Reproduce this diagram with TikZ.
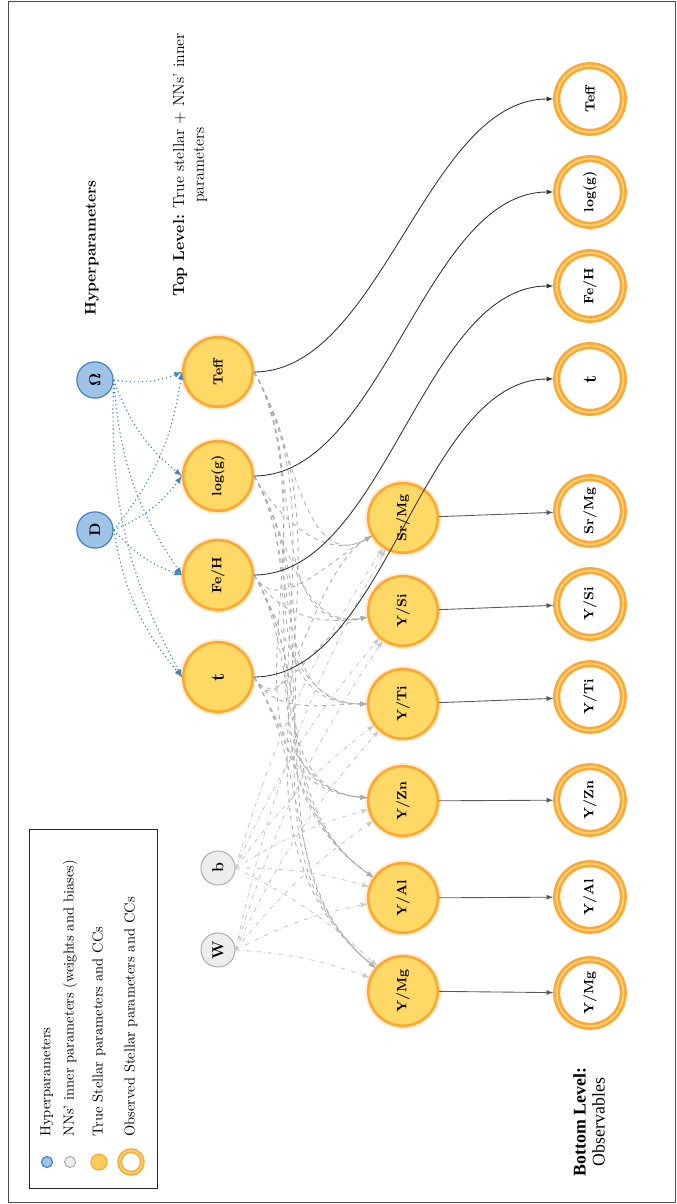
\documentclass[tikz,border=0pt]{standalone}
\usepackage[no-math]{fontspec}
\newfontfamily\levelfont{Liberation Serif}
\usetikzlibrary{arrows}

\definecolor{hyperfill}{HTML}{9DC3E6}
\definecolor{hyperdraw}{HTML}{3C7FC4}
\definecolor{nnfill}{HTML}{EDEDED}
\definecolor{nndraw}{HTML}{A3A3A3}
\definecolor{truefill}{HTML}{FFD966}
\definecolor{truedraw}{HTML}{FFA733}
\definecolor{obsinner}{HTML}{FFD27A}
\definecolor{dotblue}{HTML}{3D85C6}

\begin{document}
\begin{tikzpicture}[x=0.69pt, y=0.69pt, rotate=90, transform shape]
\tikzstyle{hyper}=[circle, draw=hyperdraw, fill=hyperfill, line width=0.8pt, minimum size=25pt, inner sep=0pt, font=\bfseries\fontsize{10.5}{12}\selectfont]
\tikzstyle{nnpar}=[circle, draw=nndraw, fill=nnfill, line width=0.6pt, minimum size=23.5pt, inner sep=0pt, font=\bfseries\fontsize{11}{13}\selectfont]
\tikzstyle{truebase}=[circle, draw=truedraw, fill=truefill, line width=1.8pt, minimum size=48pt, inner sep=0pt, font=\bfseries\fontsize{9.3}{11}\selectfont]
\tikzstyle{truevar}=[truebase, preaction={draw=truedraw!22, line width=4.5pt}]
\tikzstyle{obsvar}=[circle, draw=truedraw, double=obsinner, double distance=1.3pt, line width=1.8pt, fill=white, minimum size=46pt, inner sep=0pt, outer sep=2.4pt, font=\bfseries\fontsize{9.3}{11}\selectfont]
\tikzstyle{hyperline}=[dotted, color=dotblue, line width=0.8pt, -latex, bend right=15]
\tikzstyle{trueline}=[dashed, color=black!32, line width=0.6pt, -latex, out=-150]
\tikzstyle{nnline}=[dash dot, color=black!22, line width=0.6pt, -latex, bend left=8]
\tikzstyle{obsline}=[color=black!65, line width=0.6pt, -latex]
\tikzstyle{topline}=[color=black!80, line width=0.6pt, -latex, out=-90, in=90, looseness=0.8]
\tikzstyle{legtext}=[anchor=west, inner sep=0pt, font=\fontsize{10}{12}\selectfont]

\useasboundingbox (0,0) rectangle (1204,676);
\draw[black!70, line width=0.5pt] (2,1) rectangle (1203,668);

% hyperparameters and NN parameters
\node[hyper] (Omega) at (824,581) {$\mathbf{\Omega}$};
\node[hyper] (D) at (674,581) {D};
\node[nnpar] (W) at (254,458) {W};
\node[nnpar] (b) at (336,458) {b};

% true stellar parameters
\node[truevar] (t) at (527,458) {\fontsize{13}{15}\selectfont t};
\node[truevar] (FeH) at (629,458) {Fe/H};
\node[truevar] (logg) at (728,458) {log(g)};
\node[truevar] (Teff) at (832,458) {Teff};

% true chemical clocks
\node[truevar] (YMg) at (213,273) {Y/Mg};
\node[truevar] (YAl) at (306,273) {Y/Al};
\node[truevar] (YZn) at (403,273) {Y/Zn};
\node[truevar] (YTi) at (500,273) {Y/Ti};
\node[truevar] (YSi) at (593,273) {Y/Si};
\node[truevar] (SrMg) at (686,273) {Sr/Mg};

% observables
\node[obsvar] (oYMg) at (211,86) {Y/Mg};
\node[obsvar] (oYAl) at (307,86) {Y/Al};
\node[obsvar] (oYZn) at (404,86) {Y/Zn};
\node[obsvar] (oYTi) at (507,86) {Y/Ti};
\node[obsvar] (oYSi) at (600,86) {Y/Si};
\node[obsvar] (oSrMg) at (693,86) {Sr/Mg};
\node[obsvar] (ot) at (825,86) {\fontsize{13}{15}\selectfont t};
\node[obsvar] (oFeH) at (918,86) {Fe/H};
\node[obsvar] (ologg) at (1012,86) {log(g)};
\node[obsvar] (oTeff) at (1105,86) {Teff};

% level labels
\node[font=\bfseries\fontsize{10.6}{12}\selectfont] (hyplabel) at (956,584) {Hyperparameters};
\node[align=center, font=\fontsize{11}{13.5}\selectfont] (toplabel) at (1039,486)
  {\textbf{Top Level:} True stellar $+$ NNs' inner\\parameters};
\node[align=center, font=\levelfont\fontsize{12.3}{13}\selectfont] (botlabel) at (82,87)
  {\textbf{Bottom Level:}\\Observables};

\path[hyperline]
  (Omega.south) edge (Teff.north) edge (logg.north) edge (FeH.north) edge (t.north)
  (D.south) edge (Teff.north) edge (logg.north) edge (FeH.north) edge (t.north);

\path[trueline]
  (Teff.south) edge[in=120] (SrMg) edge[in=100] (YSi) edge[in=90] (YTi)
               edge[in=85] (YZn) edge[in=55] (YAl) edge[in=50] (YMg)
  (logg.south) edge[in=120] (SrMg) edge[in=100] (YSi) edge[in=90] (YTi)
               edge[in=85] (YZn) edge[in=55] (YAl) edge[in=50] (YMg)
  (FeH.south) edge[in=120] (SrMg) edge[in=100] (YSi) edge[in=90] (YTi)
              edge[in=85] (YZn) edge[in=55] (YAl) edge[in=50] (YMg)
  (t.south) edge[in=120] (SrMg) edge[in=100] (YSi) edge[in=90] (YTi)
            edge[in=85] (YZn) edge[in=55] (YAl) edge[in=50] (YMg);

\path[nnline]
  (W.south) edge (SrMg) edge (YSi) edge (YTi) edge (YZn) edge (YAl) edge (YMg)
  (b.south) edge (SrMg) edge (YSi) edge (YTi) edge (YZn) edge (YAl) edge (YMg);

\path[obsline]
  (YMg) edge (oYMg)
  (YAl) edge (oYAl)
  (YZn) edge (oYZn)
  (YTi) edge (oYTi)
  (YSi) edge (oYSi)
  (SrMg) edge (oSrMg);

\path[topline]
  (t.south) edge (ot.north)
  (FeH.south) edge (oFeH.north)
  (logg.south) edge (ologg.north)
  (Teff.south) edge (oTeff.north);

% legend
\draw[black!85, line width=0.6pt] (16,519) rectangle (375,647);
\node[hyper, minimum size=7.6pt] (keyhyper) at (42,629) {};
\node[nnpar, minimum size=7.6pt] (keynn) at (42,606) {};
\node[truebase, minimum size=11pt, line width=0.8pt, fill=truefill!70!truedraw] (keytrue) at (42,577) {};
\node[obsvar, minimum size=15.7pt, line width=1.1pt, double distance=1.1pt] (keyobs) at (42,545) {};
\node[legtext] at (67,629) {Hyperparameters};
\node[legtext] at (67,606) {NNs' inner parameters (weights and biases)};
\node[legtext] at (67,577) {True Stellar parameters and CCs};
\node[legtext] at (67,545) {Observed Stellar parameters and CCs};
\end{tikzpicture}
\end{document}
